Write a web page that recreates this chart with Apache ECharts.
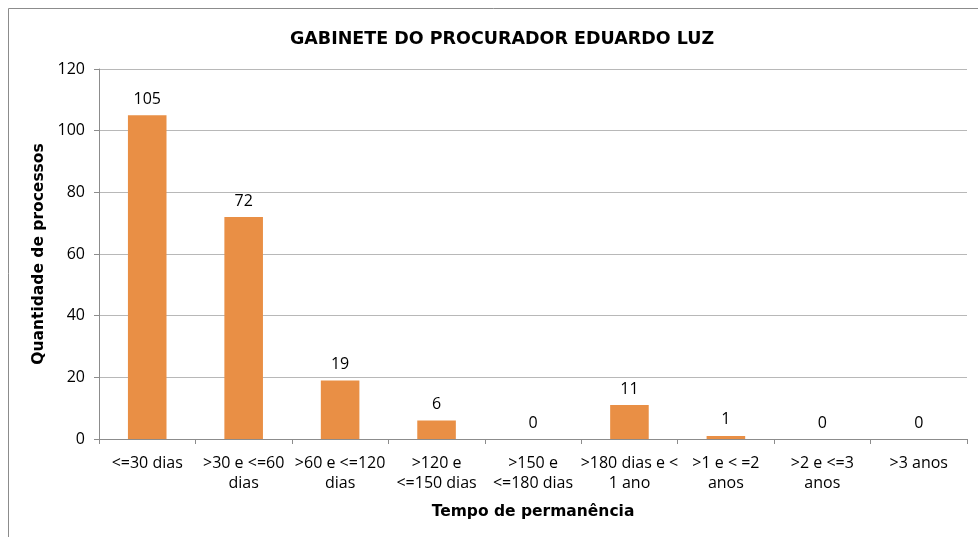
<!DOCTYPE html>
<html>
<head>
<meta charset="utf-8">
<script src="https://cdn.jsdelivr.net/npm/echarts@6/dist/echarts.min.js"></script>
<style>
html, body { margin: 0; padding: 0; background: #fff; }
#container { width: 978px; height: 537px; }
</style>
</head>
<body>
<div id="container"></div>
<script>
var categorias = ["<=30 dias", ">30 e <=60\ndias", ">60 e <=120\ndias", ">120 e\n<=150 dias", ">150 e\n<=180 dias", ">180 dias e <\n1 ano", ">1 e < =2\nanos", ">2 e <=3\nanos", ">3 anos"];
var processos = [105, 72, 19, 6, 0, 11, 1, 0, 0];
var ticksY = [0, 20, 40, 60, 80, 100, 120];

window.onload = function () {
	var myChart = echarts.init(document.getElementById("container"));
	myChart.setOption({
		backgroundColor: '#fff',
		animation: false,
		title: {
			text: 'GABINETE DO PROCURADOR EDUARDO LUZ',
			left: 497,
			top: 25,
			textAlign: 'center',
			textStyle: { fontFamily: 'DejaVu Sans', fontWeight: 'bold', fontSize: 17.5, color: '#000' }
		},
		graphic: [{
			type: 'rect',
			shape: { x: 8.5, y: 8.5, width: 1000, height: 600 },
			style: { fill: 'none', stroke: '#8c8c8c', lineWidth: 1 },
			silent: true
		}],
		grid: { left: 99, right: 11, top: 69, bottom: 98 },
		xAxis: {
			type: 'category',
			data: categorias,
			name: 'Tempo de permanência',
			nameLocation: 'middle',
			nameGap: 65,
			nameTextStyle: { fontFamily: 'DejaVu Sans', fontWeight: 'bold', fontSize: 15.5, color: '#000' },
			axisLine: { lineStyle: { color: '#8c8c8c' } },
			axisTick: { show: true, length: 5, lineStyle: { color: '#8c8c8c' } },
			axisLabel: { interval: 0, margin: 14, fontFamily: 'Open Sans', fontSize: 16, color: '#000', lineHeight: 20 }
		},
		yAxis: {
			type: 'value',
			min: ticksY[0],
			max: ticksY[ticksY.length - 1],
			interval: 20,
			name: 'Quantidade de processos',
			nameLocation: 'middle',
			nameGap: 46,
			nameTextStyle: { fontFamily: 'DejaVu Sans', fontWeight: 'bold', fontSize: 15.5, color: '#000' },
			axisLine: { show: true, lineStyle: { color: '#8c8c8c' } },
			axisTick: { show: true, length: 5, inside: false, lineStyle: { color: '#8c8c8c' } },
			axisLabel: { margin: 14, fontFamily: 'Open Sans', fontSize: 16, color: '#000' },
			splitLine: { lineStyle: { color: '#b8b8b8' } }
		},
		series: [{
			type: 'bar',
			data: processos,
			barWidth: '40%',
			itemStyle: { color: '#e98f45' },
			label: { show: true, position: 'top', distance: 8, fontFamily: 'Open Sans', fontSize: 16, color: '#000' }
		}]
	});
};
</script>
</body>
</html>
